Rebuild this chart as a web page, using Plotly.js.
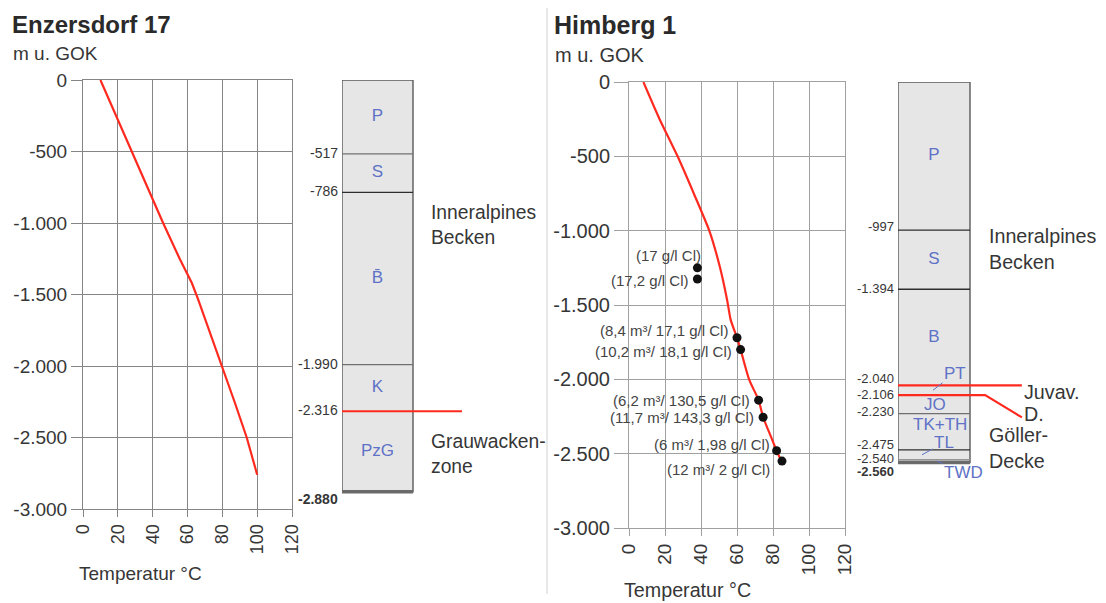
<!DOCTYPE html>
<html>
<head>
<meta charset="utf-8">
<script src="https://cdn.plot.ly/plotly-3.0.1.min.js"></script>
<style>
  html, body { margin: 0; padding: 0; background: #ffffff; }
  #chart { width: 1106px; height: 603px; }
</style>
</head>
<body>
<div id="chart"></div>
<script>
// ---- Temperature logs (°C against depth in m below ground surface) ----
const enzTemp  = [10, 19, 28, 37, 46, 55.5, 62.5, 66, 73, 80, 87, 94, 100];
const enzDepth = [0, -250, -500, -750, -1000, -1250, -1420, -1530, -1770, -2000, -2250, -2500, -2760];

const himTemp  = [8, 17, 27, 36, 44.6, 50.5, 54.5, 56.5, 60, 62, 66.7, 72, 74.5, 78, 82, 84.5];
const himDepth = [0, -250, -500, -750, -1000, -1245, -1466, -1600, -1720, -1800, -2000, -2140, -2255, -2360, -2480, -2545];

// ---- Water samples, Himberg 1 ----
const sampleTemp   = [38, 38, 60, 62, 72, 74.5, 82, 85];
const sampleDepth  = [-1250, -1325, -1720, -1800, -2140, -2255, -2480, -2550];
const sampleLabels = ["(17 g/l Cl)", "(17,2 g/l Cl)", "(8,4 m³/ 17,1 g/l Cl)", "(10,2 m³/ 18,1 g/l Cl)",
                      "(6,2 m³/ 130,5 g/l Cl)", "(11,7 m³/ 143,3 g/l Cl)", "(6 m³/ 1,98 g/l Cl)", "(12 m³/ 2 g/l Cl)"];

// ---- Axis ticks ----
const tempTicks  = [0, 20, 40, 60, 80, 100, 120];
const depthTicks = [0, -500, -1000, -1500, -2000, -2500, -3000];

// ---- Stratigraphic columns (layer tops, final depth, unit names) ----
const enzTops  = [0, -517, -786, -1990, -2316];
const enzBase  = -2880;
const enzUnits = ["P", "S", "B̄", "K", "PzG"];
const enzTectonic = [-2316];

const himTops  = [0, -997, -1394, -2040, -2106, -2230, -2475, -2540];
const himBase  = -2560;
const himUnits = ["P", "S", "B", "PT", "JO", "TK+TH", "TL", "TWD"];
const himTectonic = [-2040, -2106];

// ---------------------------------------------------------------
const W = 1106, H = 603;
const px = v => v / W;          // pixel column -> paper x
const py = v => 1 - v / H;      // pixel row    -> paper y

const FONT = 'Liberation Sans, Arial, sans-serif';
const TXT = '#363636';
const UNIT = '#5f72c6';
const RED = '#ff2a1f';
const GRID_L = '#858585';
const GRID_R = '#a0a0a0';

// German number style with a plain hyphen: -2.316
function deLabel(v) {
  const s = Math.abs(v).toString().replace(/\B(?=(\d{3})+(?!\d))/g, '.');
  return (v < 0 ? '-' : '') + s;
}
function mids(tops, base) {
  return tops.map((t, i) => (t + (i + 1 < tops.length ? tops[i + 1] : base)) / 2);
}

// ---- traces ----
const traces = [
  { x: enzTemp, y: enzDepth, xaxis: 'x', yaxis: 'y', mode: 'lines',
    line: { color: RED, width: 2.2 }, hoverinfo: 'skip' },
  { x: himTemp, y: himDepth, xaxis: 'x2', yaxis: 'y2', mode: 'lines',
    line: { color: RED, width: 2.2, shape: 'spline', smoothing: 0.6 }, hoverinfo: 'skip' },
  { x: sampleTemp, y: sampleDepth, xaxis: 'x2', yaxis: 'y2', mode: 'markers',
    marker: { color: '#111', size: 9 }, hoverinfo: 'skip' },
  { x: enzUnits.map(() => 0.5), y: mids(enzTops, enzBase), text: enzUnits,
    xaxis: 'x3', yaxis: 'y3', mode: 'text', textposition: 'middle center',
    textfont: { family: FONT, size: 17, color: UNIT }, hoverinfo: 'skip' }
];

// right column: units that sit in the middle of their layer
const himInline = ['P', 'S', 'B'];
const himMid = mids(himTops, himBase);
traces.push({
  x: himUnits.filter(u => himInline.includes(u)).map(() => 0.5),
  y: himMid.filter((m, i) => himInline.includes(himUnits[i])),
  text: himUnits.filter(u => himInline.includes(u)),
  xaxis: 'x4', yaxis: 'y4', mode: 'text', textposition: 'middle center',
  textfont: { family: FONT, size: 17, color: UNIT }, hoverinfo: 'skip'
});

// ---- shapes ----
const shapes = [];
// separator between the two wells
shapes.push({ type: 'line', xref: 'paper', yref: 'paper', x0: px(547), x1: px(547), y0: py(8), y1: py(594),
  line: { color: '#d2d2d2', width: 1 } });

function column(xr, yr, tops, base, tect, dark) {
  shapes.push({ type: 'rect', xref: xr, yref: yr, x0: 0, x1: 1, y0: 0, y1: base,
    fillcolor: '#e6e6e6', line: { color: '#5a5a5a', width: 1.4 }, layer: 'below' });
  tops.slice(1).forEach(t => {
    if (tect.includes(t)) return;
    shapes.push({ type: 'line', xref: xr, yref: yr, x0: 0, x1: 1, y0: t, y1: t,
      line: { color: dark.includes(t) ? '#2e2e2e' : '#707070', width: 1.3 } });
  });
  shapes.push({ type: 'line', xref: xr, yref: yr, x0: 0, x1: 1, y0: base, y1: base,
    line: { color: '#6a6a6a', width: 3.5 } });
}
column('x3', 'y3', enzTops, enzBase, enzTectonic, [-786]);
column('x4', 'y4', himTops, himBase, himTectonic, [-997, -1394, -2475]);
// thin contact just above the base in Himberg 1
shapes.push({ type: 'line', xref: 'x4', yref: 'y4', x0: 0, x1: 1, y0: -2540, y1: -2540,
  line: { color: '#9a9a9a', width: 1 } });

// tectonic contacts (red)
shapes.push({ type: 'line', xref: 'x3', yref: 'y3', x0: 0, x1: 1.69, y0: enzTectonic[0], y1: enzTectonic[0],
  line: { color: RED, width: 2 } });
shapes.push({ type: 'line', xref: 'x4', yref: 'y4', x0: 0, x1: 1.72, y0: himTectonic[0], y1: himTectonic[0],
  line: { color: RED, width: 2.2 } });
shapes.push({ type: 'path', xref: 'x4', yref: 'y4',
  path: `M 0,${himTectonic[1]} L 1.21,${himTectonic[1]} L 1.72,${himTectonic[1] - 150}`,
  line: { color: RED, width: 2.2 } });

// ---- annotations ----
const ann = [];
function txt(x, y, text, size, opts) {
  ann.push(Object.assign({ xref: 'paper', yref: 'paper', x: px(x), y: py(y), text: text,
    showarrow: false, xanchor: 'left', yanchor: 'middle', align: 'left',
    font: { family: FONT, size: size, color: TXT } }, opts || {}));
}
txt(10, 24, '<b>Enzersdorf 17</b>', 24, { font: { family: FONT, size: 24, color: '#2a2a2a' } });
txt(11, 53, 'm u. GOK', 19);
txt(552, 25, '<b>Himberg 1</b>', 25, { font: { family: FONT, size: 25, color: '#2a2a2a' } });
txt(553, 55, 'm u. GOK', 20);
txt(140.5, 573, 'Temperatur °C', 19, { xanchor: 'center' });
txt(687.5, 590, 'Temperatur °C', 19.7, { xanchor: 'center' });

txt(429, 225, 'Inneralpines<br>Becken', 19.3);
txt(429, 453.5, 'Grauwacken-<br>zone', 19.3);
txt(987, 248.5, 'Inneralpines<br>Becken', 19.7);
txt(1022, 392, 'Juvav.', 19.7);
txt(1022, 414, 'D.', 19.7);
txt(987, 448, 'Göller-<br>Decke', 19.7);

// column depth labels
function depthLabels(xr, yr, depths, size, shift, boldSet) {
  depths.forEach(d => {
    const bold = boldSet.includes(d);
    ann.push({ xref: xr, yref: yr, x: 0, y: d, xanchor: 'right', yanchor: 'middle', xshift: -3,
      yshift: (shift[d] !== undefined ? shift[d] : 1), showarrow: false, borderpad: 0,
      text: bold ? '<b>' + deLabel(d) + '</b>' : deLabel(d),
      font: { family: FONT, size: size, color: TXT } });
  });
}
depthLabels('x3', 'y3', enzTops.slice(1).concat([enzBase]), 14, { [-2880]: -7 }, [enzBase]);
depthLabels('x4', 'y4', himTops.slice(1).concat([himBase]), 13,
  { [-997]: 4, [-2040]: 7, [-2106]: 1, [-2230]: 2, [-2475]: 5, [-2540]: 1, [-2560]: -9 }, [himBase]);

// right column: units placed beside or below their thin layers
const himPlace = {
  'PT':    { x: 0.486, ax: 22, ay: -17 },
  'JO':    { x: 0.514, dy: 0 },
  'TK+TH': { x: 0.583, dy: 7 },
  'TL':    { x: 0.333, ax: 22, ay: -12 },
  'TWD':   { x: 0.54,  ax: 27, ay: 11 }
};
himUnits.forEach((u, i) => {
  const p = himPlace[u];
  if (!p) return;
  const a = { xref: 'x4', yref: 'y4', x: p.x, y: himMid[i], text: u,
    font: { family: FONT, size: 17, color: UNIT } };
  if (p.ax !== undefined) {
    Object.assign(a, { showarrow: true, ax: p.ax, ay: p.ay, arrowhead: 0, arrowwidth: 1,
      arrowcolor: UNIT, standoff: 0, startstandoff: 0 });
  } else {
    Object.assign(a, { showarrow: false, yshift: p.dy });
  }
  ann.push(a);
});

// sample labels
const labelShift = [[6, 12], [-6, -2], [-7, 7], [-7, -2], [-7, 0], [-7, 0], [-5, 6], [-10, -8]];
sampleLabels.forEach((s, i) => {
  ann.push({ xref: 'x2', yref: 'y2', x: sampleTemp[i], y: sampleDepth[i], text: s,
    xanchor: 'right', yanchor: 'middle', showarrow: false,
    xshift: labelShift[i][0], yshift: labelShift[i][1],
    font: { family: FONT, size: 15, color: '#444' } });
});

// ---- axes ----
function tempAxis(domain, anchor, grid, size) {
  return { domain: domain, anchor: anchor, range: [0, 120], tickvals: tempTicks,
    ticktext: tempTicks.map(String), tickangle: -90, ticks: 'outside', ticklen: 7,
    tickcolor: grid, showgrid: true, gridcolor: grid, gridwidth: 1, showline: true,
    linecolor: grid, linewidth: 1, mirror: true, zeroline: false, fixedrange: true,
    tickfont: { family: FONT, size: size, color: TXT } };
}
function depthAxis(domain, anchor, grid, size, len) {
  return { domain: domain, anchor: anchor, range: [-3000, 0], tickvals: depthTicks,
    ticktext: depthTicks.map(deLabel), ticks: 'outside', ticklen: len, tickcolor: grid,
    showgrid: true, gridcolor: grid, gridwidth: 1, showline: true, linecolor: grid,
    linewidth: 1, mirror: true, zeroline: false, fixedrange: true,
    tickfont: { family: FONT, size: size, color: TXT } };
}
const hidden = (domain, anchor, range) => ({ domain: domain, anchor: anchor, range: range,
  visible: false, showgrid: false, zeroline: false, fixedrange: true });

const layout = {
  width: W, height: H,
  margin: { l: 0, r: 0, t: 0, b: 0 },
  paper_bgcolor: '#ffffff', plot_bgcolor: 'rgba(0,0,0,0)',
  showlegend: false,
  font: { family: FONT, color: TXT },
  xaxis:  tempAxis([px(83), px(292)], 'y', GRID_L, 18),
  yaxis:  depthAxis([py(509), py(80)], 'x', GRID_L, 19, 11),
  xaxis2: tempAxis([px(629), px(845)], 'y2', GRID_R, 19),
  yaxis2: depthAxis([py(528), py(82)], 'x2', GRID_R, 20, 14),
  xaxis3: hidden([px(342), px(475)], 'y3', [0, 133 / 71]),
  yaxis3: hidden([py(509), py(80)], 'x3', [-3000, 0]),
  xaxis4: hidden([px(898), px(1030)], 'y4', [0, 132 / 72]),
  yaxis4: hidden([py(528), py(82)], 'x4', [-3000, 0]),
  shapes: shapes,
  annotations: ann
};

Plotly.newPlot('chart', traces, layout, { staticPlot: true, displayModeBar: false });
</script>
</body>
</html>
